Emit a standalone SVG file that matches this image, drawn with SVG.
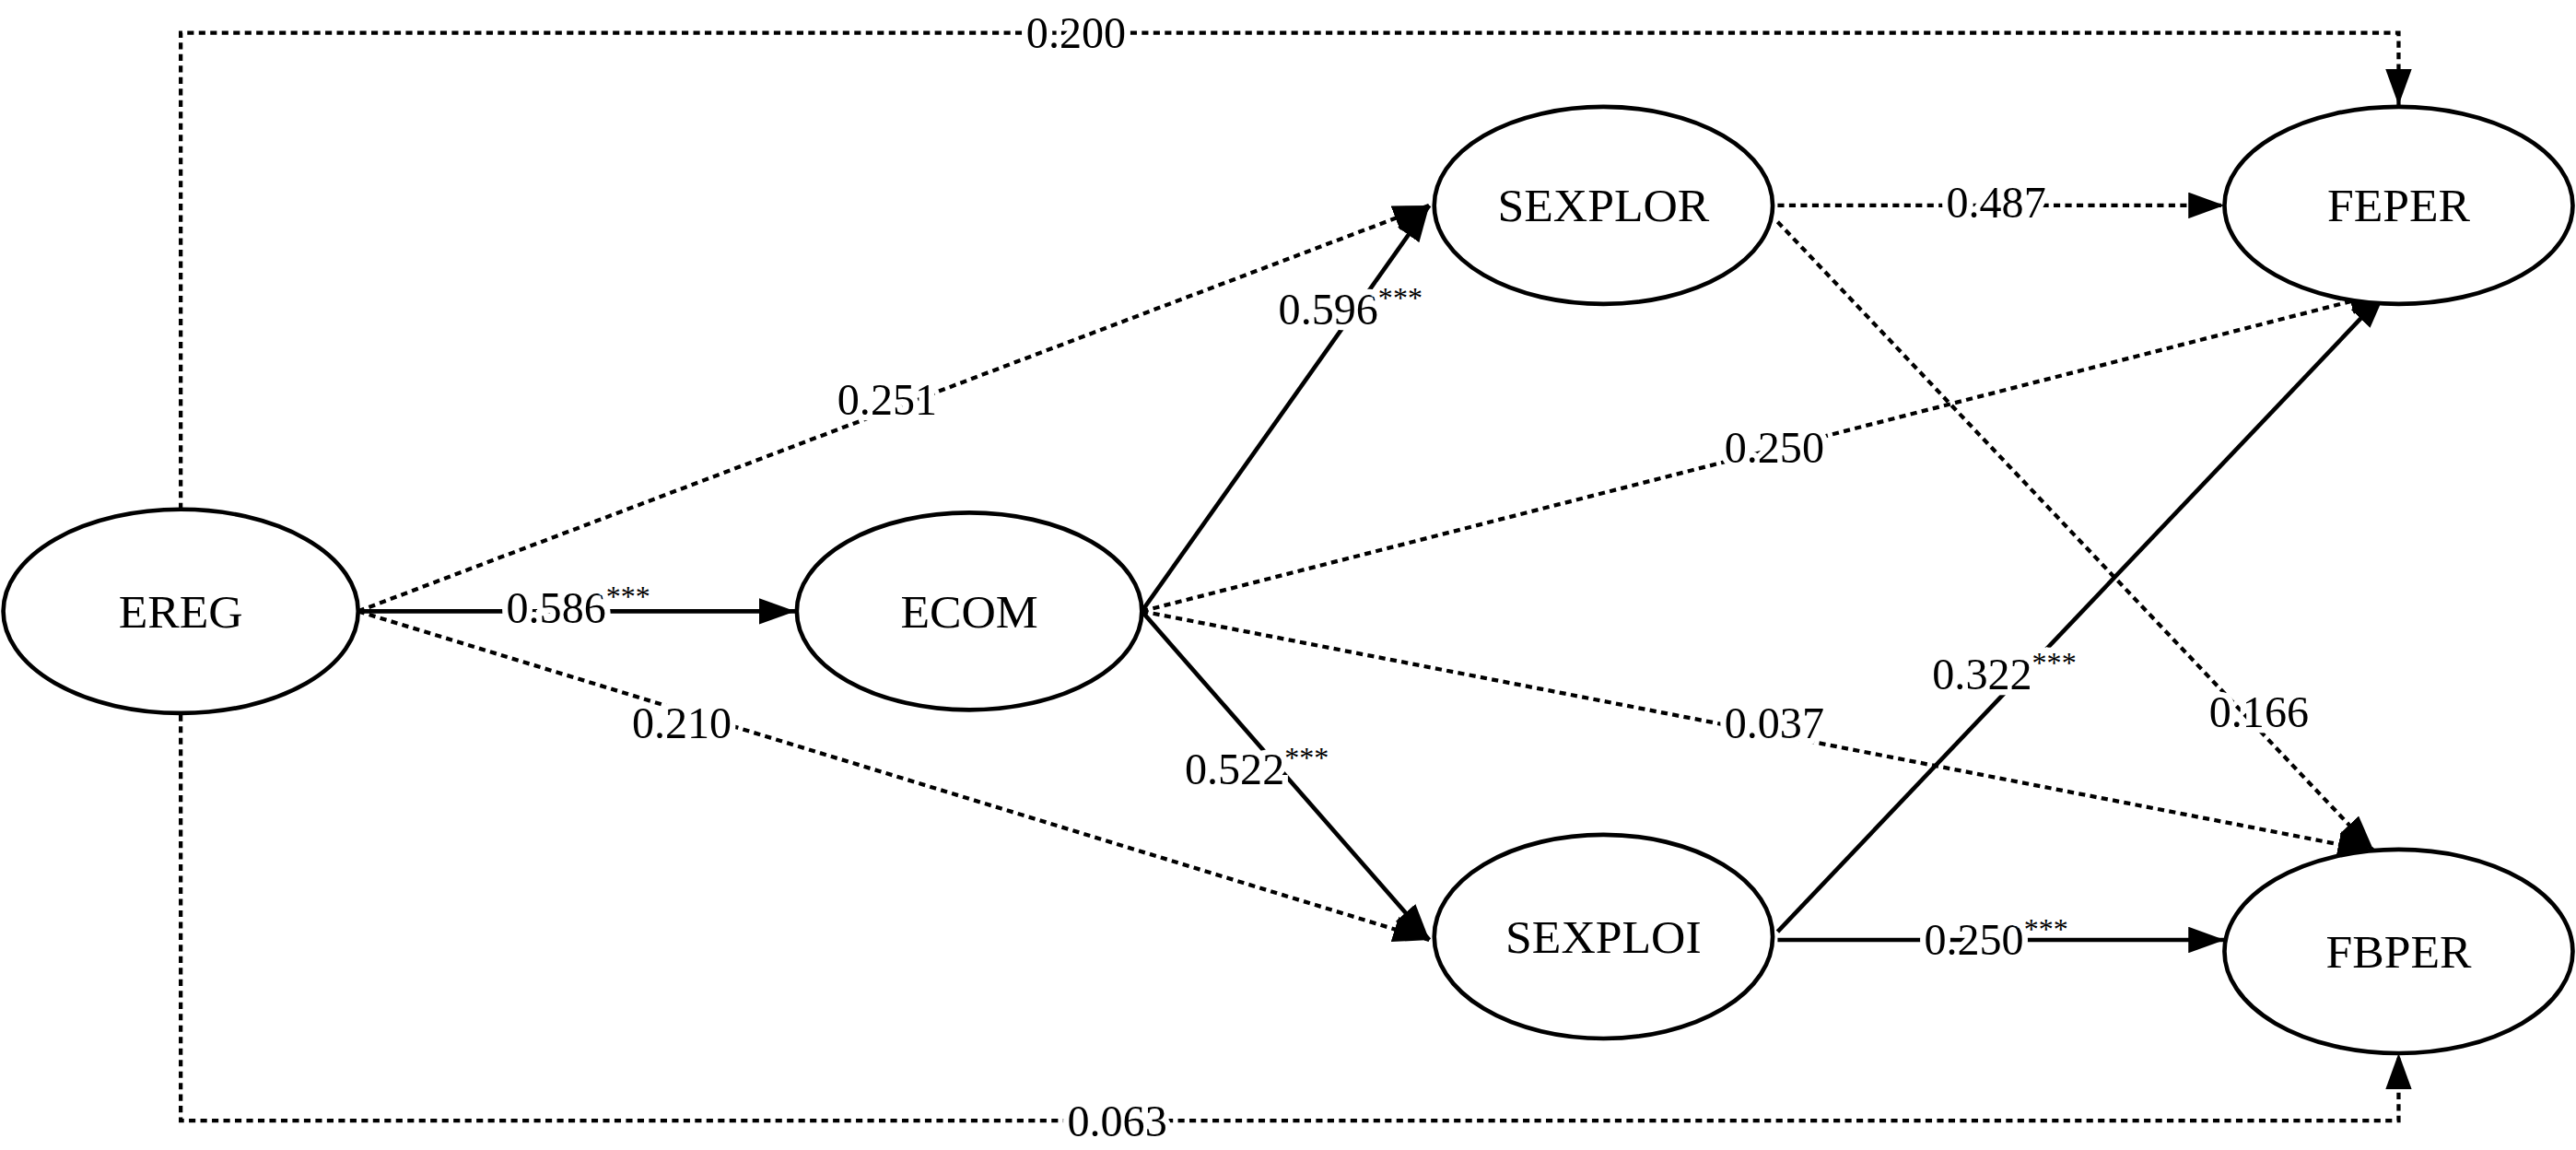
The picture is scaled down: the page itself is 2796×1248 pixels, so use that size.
<svg xmlns="http://www.w3.org/2000/svg" width="2796" height="1248" viewBox="0 0 2796 1248">
<style>
.n{fill:#fff;stroke:#000;stroke-width:2.6}
.t{font-family:"Liberation Serif",serif;font-size:29px;text-anchor:middle;dominant-baseline:central;fill:#000}
.l{font-family:"Liberation Serif",serif;font-size:27px;text-anchor:middle;dominant-baseline:central;fill:#000;stroke:#fff;stroke-width:7;paint-order:stroke}
.s{fill:none;stroke:#000;stroke-width:2.6}
.d{fill:none;stroke:#000;stroke-width:2.4;stroke-dasharray:4 3}
.st{font-size:18px}
</style>
<defs>
<marker id="a" viewBox="0 0 22 16" refX="22" refY="8" markerWidth="22" markerHeight="16" markerUnits="userSpaceOnUse" orient="auto"><path d="M0,0 L22,8 L0,16 Z" fill="#000"/></marker>
</defs>
<rect width="2796" height="1248" fill="#fff"/>
<g transform="scale(1.7832)">
<g id="connectors">
<path class="d" d="M110,310 V20 H1460 V64" marker-end="url(#a)"/>
<path class="d" d="M110,435 V682 H1460 V641" marker-end="url(#a)"/>
<path class="s" d="M218,372 L484,372" marker-end="url(#a)"/>
<path class="d" d="M218,372 L870,125" marker-end="url(#a)"/>
<path class="d" d="M218,372 L870,572" marker-end="url(#a)"/>
<path class="s" d="M695,372 L870,125" marker-end="url(#a)"/>
<path class="s" d="M695,372 L870,572" marker-end="url(#a)"/>
<path class="d" d="M695,372 L1452,178" marker-end="url(#a)"/>
<path class="d" d="M695,372 L1445,518" marker-end="url(#a)"/>
<path class="d" d="M1082,125 L1354,125" marker-end="url(#a)"/>
<path class="d" d="M1082,135 L1445,518" marker-end="url(#a)"/>
<path class="s" d="M1082,567 L1452,178" marker-end="url(#a)"/>
<path class="s" d="M1082,572 L1354,572" marker-end="url(#a)"/>
<text class="l" x="655" y="20">0.200</text>
<text class="l" x="680" y="682">0.063</text>
<text class="l" x="352" y="370">0.586<tspan class="st" dy="-7">***</tspan></text>
<text class="l" x="540" y="243">0.251</text>
<text class="l" x="415" y="440">0.210</text>
<text class="l" x="822" y="188">0.596<tspan class="st" dy="-7">***</tspan></text>
<text class="l" x="765" y="468">0.522<tspan class="st" dy="-7">***</tspan></text>
<text class="l" x="1080" y="272">0.250</text>
<text class="l" x="1080" y="440">0.037</text>
<text class="l" x="1215" y="123">0.487</text>
<text class="l" x="1375" y="433">0.166</text>
<text class="l" x="1220" y="410">0.322<tspan class="st" dy="-7">***</tspan></text>
<text class="l" x="1215" y="572">0.250<tspan class="st" dy="-7">***</tspan></text>
</g>
<g id="EREG"><ellipse class="n" cx="110" cy="372" rx="108" ry="62"/><text class="t" x="110" y="372">EREG</text></g>
<g id="ECOM"><ellipse class="n" cx="590" cy="372" rx="105" ry="60"/><text class="t" x="590" y="372">ECOM</text></g>
<g id="SEXPLOR"><ellipse class="n" cx="976" cy="125" rx="103" ry="60"/><text class="t" x="976" y="125">SEXPLOR</text></g>
<g id="SEXPLOI"><ellipse class="n" cx="976" cy="570" rx="103" ry="62"/><text class="t" x="976" y="570">SEXPLOI</text></g>
<g id="FEPER"><ellipse class="n" cx="1460" cy="125" rx="106" ry="60"/><text class="t" x="1460" y="125">FEPER</text></g>
<g id="FBPER"><ellipse class="n" cx="1460" cy="579" rx="106" ry="62"/><text class="t" x="1460" y="579">FBPER</text></g>
</g>
</svg>
